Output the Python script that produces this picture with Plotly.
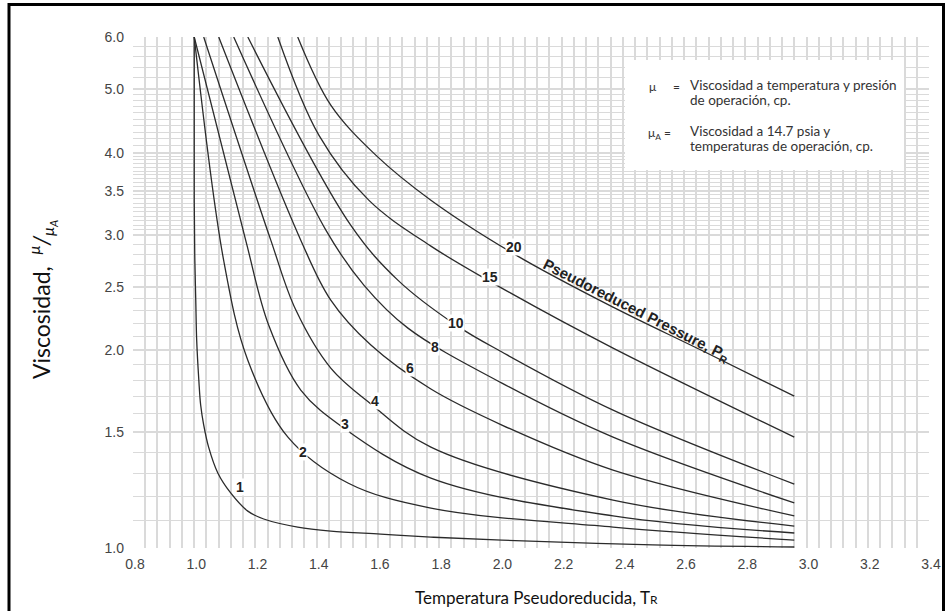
import plotly.graph_objects as go
import numpy as np

# ---------------- data ----------------
pr_labels = ["1", "2", "3", "4", "6", "8", "10", "15", "20"]

pr1_x = [1.0, 1.0, 1.002, 1.005, 1.008, 1.015, 1.021, 1.031, 1.047, 1.077, 1.119, 1.175, 1.227, 1.338, 1.446, 1.609, 1.773, 2.005, 2.498, 2.96]
pr1_y = [6.0, 3.386, 2.744, 2.385, 2.073, 1.802, 1.651, 1.539, 1.424, 1.301, 1.213, 1.138, 1.107, 1.076, 1.061, 1.050, 1.039, 1.028, 1.011, 1.0035]

pr2_x = [1.0, 1.096, 1.175, 1.306, 1.502, 1.773, 2.368, 2.96]
pr2_y = [6.0, 2.744, 1.932, 1.475, 1.256, 1.150, 1.076, 1.028]

pr3_x = [1.0, 1.168, 1.243, 1.348, 1.489, 1.773, 2.368, 2.96]
pr3_y = [6.0, 2.943, 2.185, 1.740, 1.522, 1.278, 1.119, 1.054]

pr4_x = [1.031, 1.250, 1.332, 1.446, 1.577, 1.773, 2.368, 2.96]
pr4_y = [6.0, 2.943, 2.303, 1.879, 1.657, 1.424, 1.183, 1.080]

pr6_x = [1.080, 1.348, 1.446, 1.577, 1.773, 2.005, 2.368, 2.96]
pr6_y = [6.0, 2.943, 2.385, 2.037, 1.746, 1.539, 1.314, 1.119]

pr8_x = [1.129, 1.430, 1.554, 1.698, 2.005, 2.368, 2.96]
pr8_y = [6.0, 3.048, 2.514, 2.162, 1.783, 1.475, 1.171]

pr10_x = [1.175, 1.511, 1.665, 1.855, 2.005, 2.368, 2.96]
pr10_y = [6.0, 3.102, 2.558, 2.185, 1.988, 1.622, 1.251]

pr15_x = [1.273, 1.407, 1.570, 1.773, 2.034, 2.368, 2.96]
pr15_y = [6.0, 4.253, 3.386, 2.882, 2.444, 2.016, 1.475]

pr20_x = [1.338, 1.446, 1.593, 1.773, 2.051, 2.368, 2.655, 2.96]
pr20_y = [6.0, 4.725, 3.965, 3.386, 2.793, 2.327, 2.002, 1.703]

# curve label positions
label_x = [1.149, 1.355, 1.492, 1.590, 1.704, 1.786, 1.855, 1.966, 2.044]
label_y = [1.238, 1.400, 1.544, 1.674, 1.879, 2.023, 2.200, 2.585, 2.872]

x_tick_vals = [0.8, 1.0, 1.2, 1.4, 1.6, 1.8, 2.0, 2.2, 2.4, 2.6, 2.8, 3.0, 3.2, 3.4]
y_tick_vals = [1.0, 1.5, 2.0, 2.5, 3.0, 3.5, 4.0, 5.0, 6.0]
y_tick_text = ["1.0", "1.5", "2.0", "2.5", "3.0", "3.5", "4.0", "5.0", "6.0"]

# graph-paper grid values on the log axis
y_grid_vals = ([round(1.0 + 0.1 * i, 2) for i in range(21)]
               + [round(3.0 + 0.05 * i, 2) for i in range(1, 21)]
               + [round(4.0 + 0.1 * i, 2) for i in range(1, 11)]
               + [round(5.0 + 0.2 * i, 2) for i in range(1, 6)])

curves = [(pr1_x, pr1_y), (pr2_x, pr2_y), (pr3_x, pr3_y), (pr4_x, pr4_y), (pr6_x, pr6_y),
          (pr8_x, pr8_y), (pr10_x, pr10_y), (pr15_x, pr15_y), (pr20_x, pr20_y)]

# ---------------- figure ----------------
W, H = 947, 611
ML, MR, MT, MB = 133, 18, 37, 63
PW, PH = W - ML - MR, H - MT - MB


def px(xp):  # page pixel x -> paper
    return (xp - ML) / PW


def py(yp):  # page pixel y -> paper
    return (H - MB - yp) / PH


fig = go.Figure()
for (cx, cy), name in zip(curves, pr_labels):
    fig.add_trace(go.Scatter(x=cx, y=cy, mode="lines", name=name,
                             line=dict(color="#2b2b2b", width=1.3, shape="spline", smoothing=1.0),
                             hoverinfo="skip", showlegend=False))

grid_col = "#dadada"
tick_font = dict(family="Liberation Sans, Arial", size=14, color="#444")
fig.update_layout(
    width=W, height=H,
    margin=dict(l=ML, r=MR, t=MT, b=MB, pad=0, autoexpand=False),
    paper_bgcolor="white", plot_bgcolor="white",
    showlegend=False,
    xaxis=dict(range=[0.8, 3.4], tickvals=x_tick_vals, ticktext=[f"{v:.1f}" for v in x_tick_vals],
               showgrid=True, gridcolor=grid_col, gridwidth=1.5, zeroline=False, showline=False,
               ticks="", tickfont=tick_font, ticklabelstandoff=6, ticklabelshift=2, automargin=False,
               minor=dict(dtick=0.04, tick0=0.8, showgrid=True, gridcolor=grid_col, gridwidth=1.5, ticks="")),
    yaxis=dict(type="log", range=[0, np.log10(6.0)], tickvals=y_tick_vals, ticktext=y_tick_text,
               showgrid=True, gridcolor=grid_col, gridwidth=1.5, zeroline=False, showline=False,
               ticks="", tickfont=tick_font, ticklabelstandoff=8, automargin=False,
               minor=dict(tickmode="array", tickvals=y_grid_vals, showgrid=True, gridcolor=grid_col,
                          gridwidth=1.2, ticks="")),
)

# white box behind the definitions
fig.add_shape(type="rect", xref="paper", yref="paper", x0=px(625), x1=px(904), y0=py(170), y1=py(60),
              fillcolor="white", line=dict(width=0), layer="above")

# outer frame
fig.add_shape(type="rect", xref="paper", yref="paper", x0=px(9), x1=px(943.5), y0=py(640), y1=py(4.5),
              fillcolor="rgba(0,0,0,0)", line=dict(color="black", width=3), layer="above")

txt_font = dict(family="Lato, Noto Sans", size=13.5, color="#333")
sym_font = dict(family="Lato, Noto Sans", size=12, color="#333")
anns = [
    dict(x=px(653), y=py(86), text="μ", font=sym_font, xanchor="center"),
    dict(x=px(676), y=py(86), text="=", font=sym_font, xanchor="center"),
    dict(x=px(659), y=py(133), text="μ<sub>A</sub> =", font=sym_font, xanchor="center"),
    dict(x=px(688), y=py(85), text="Viscosidad a temperatura y presión", font=txt_font, xanchor="left"),
    dict(x=px(688), y=py(100), text="de operación, cp.", font=txt_font, xanchor="left"),
    dict(x=px(688), y=py(131), text="Viscosidad a 14.7 psia y", font=txt_font, xanchor="left"),
    dict(x=px(688), y=py(146), text="temperaturas de operación, cp.", font=txt_font, xanchor="left"),
]
for a in anns:
    fig.add_annotation(xref="paper", yref="paper", showarrow=False, yanchor="middle", align="left", **a)

# curve labels
for lx, ly, t in zip(label_x, label_y, pr_labels):
    fig.add_annotation(x=lx, y=np.log10(ly), xref="x", yref="y", text=f"<b>{t}</b>", showarrow=False,
                       xanchor="center", yanchor="middle", bgcolor="white", borderpad=0,
                       font=dict(family="Liberation Sans, Arial", size=14, color="#222"))

fig.add_annotation(x=px(636), y=py(310), xref="paper", yref="paper", showarrow=False, textangle=27,
                   xanchor="center", yanchor="middle",
                   text="<b>Pseudoreduced Pressure, P<sub>R</sub></b>",
                   font=dict(family="Liberation Sans, Arial", size=15, color="#222"))

# axis titles
fig.add_annotation(x=px(536), y=py(597), xref="paper", yref="paper", showarrow=False,
                   xanchor="center", yanchor="middle",
                   text="Temperatura Pseudoreducida, T<span style=\"font-size:12px\">R</span>",
                   font=dict(family="Lato, Noto Sans", size=17, color="#111"))
fig.add_annotation(x=px(42), y=py(300), xref="paper", yref="paper", showarrow=False, textangle=-90,
                   xanchor="center", yanchor="middle",
                   text="Viscosidad,  <i><sup>μ</sup>/<sub>μ<sub>A</sub></sub></i>",
                   font=dict(family="Lato, Noto Sans", size=23, color="#111"))

fig.write_html("out.html", config={"displayModeBar": False},
               post_script="document.body.style.margin='0';")
